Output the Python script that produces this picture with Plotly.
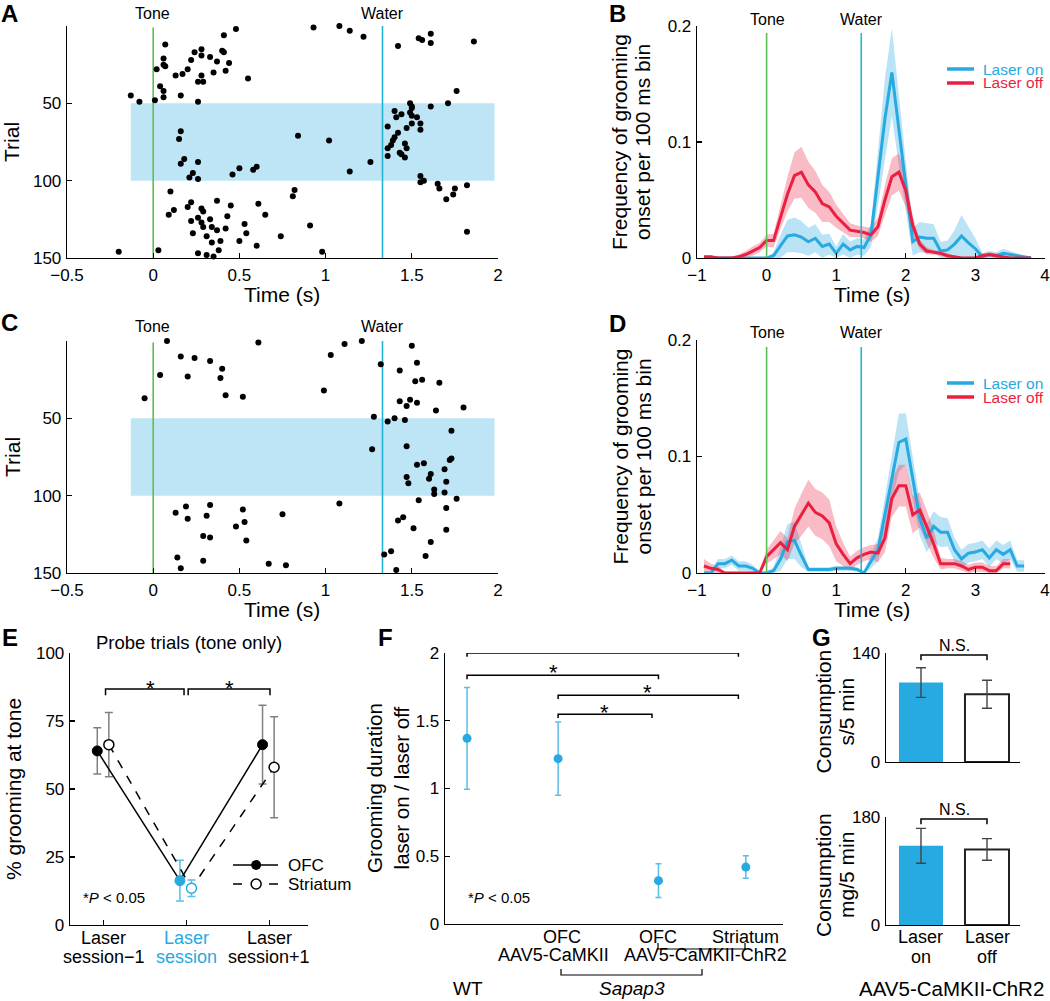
import numpy as np
import plotly.graph_objects as go

# ======================= DATA =======================
# Panel A raster: grooming onset (time, trial)
A_time = [0.48, 0.93, 1.08, 1.14, 1.22, 0.41, 0.07, 1.42, 1.54, 1.56, 1.61, 1.61, 1.86,
          0.28, 0.24, 0.28, 0.40, 0.41, 0.06, 0.22, 0.33, 0.37, 0.44, 0.06, 0.07, 0.02, 0.20,
          0.17, 0.13, 0.28, 0.35, 0.42, 0.55, 0.26, 0.29, 0.04, 0.06, 0.06, 0.16, -0.13, -0.08,
          0.01, 0.26, 1.76, 1.71, 1.61,
          0.16, 0.15, 0.84, 1.02, 0.18, 0.16, 0.26, 0.23, 0.21, 0.26, 0.46, 0.50, 0.58, 0.60,
          1.14, 1.26,
          1.40, 1.41, 1.44, 1.49, 1.50, 1.50, 1.49, 1.50, 1.53, 1.50, 1.55, 1.55, 1.36, 1.47,
          1.42, 1.40, 1.39, 1.38, 1.36, 1.46, 1.47, 1.43, 1.44, 1.46, 1.36, 1.55, 1.55, 1.57,
          1.65, 1.66, 1.75, 1.74, 1.70, 1.82, 1.82,
          0.10, 0.82, 0.81, 0.22, 0.20, 0.37, 0.28, 0.29, 0.45, 0.61, 0.09, 0.12, 0.43, 0.65,
          0.22, 0.26, 0.28, 0.33, 0.53, 0.91, 0.29, 0.34, 0.37, 0.42, 0.54, 0.23, 0.31, 0.74,
          0.39, 0.34, 0.50, 0.60, 0.38, 0.03, -0.20, 0.98, 0.26, 0.31, 0.35]
A_trial = [2, 1, 0, 3, 7, 6, 12, 13, 8, 9, 5, 11, 10,
           15, 17, 19, 16, 17, 21, 22, 20, 23, 24, 25, 26, 28, 28,
           31, 32, 32, 30, 29, 34, 36, 36, 39, 42, 46, 45, 45, 49,
           48, 49, 42, 50, 52,
           68, 73, 71, 74, 86, 89, 88, 95, 98, 99, 96, 92, 93, 91,
           94, 88,
           55, 59, 57, 50, 52, 53, 56, 58, 59, 63, 63, 67, 65, 66,
           69, 72, 74, 77, 79, 76, 79, 82, 83, 85, 84, 97, 101, 100,
           102, 105, 105, 109, 112, 103, 133,
           107, 106, 110, 114, 117, 113, 118, 120, 116, 115, 122, 119, 123, 122,
           126, 124, 127, 125, 128, 129, 130, 130, 132, 131, 134, 134, 136, 136,
           139, 140, 139, 142, 145, 145, 146, 146, 147, 148, 149]

# Panel C raster
C_time = [0.08, 0.61, 1.11, 1.21, 1.45, 1.73, 1.50, 1.03, 0.16, 0.24, 0.33, 1.32, 1.53,
          0.40, 1.43, 0.04, 0.20, 0.39, 1.52, 1.56, 1.66, 0.99, -0.05, 0.42, 0.52, 1.43,
          1.49, 1.53, 1.47, 1.64, 1.80, 1.28, 1.36, 1.40, 1.46, 1.73, 1.27, 1.47, 1.53,
          1.57, 1.73, 1.72, 1.69, 1.61, 1.60, 1.47, 1.48, 1.70, 1.63, 1.63, 1.69, 1.54,
          1.76, 1.08, 1.70, 0.19, 0.33, 0.13, 0.31, 0.20, 0.52, 0.53, 0.75, 0.48, 1.42,
          1.45, 1.51, 1.70, 0.29, 0.33, 0.54, 1.61, 1.34, 1.38, 1.58, 0.14, 0.29, 0.16,
          0.67, 0.77, 1.41]
C_trial = [0, 1, 2, 0, -1, -1, 3, 9, 10, 11, 13, 15, 14,
           18, 19, 22, 23, 24, 26, 25, 27, 32, 37, 35, 36, 39,
           38, 40, 42, 45, 43, 49, 52, 50, 51, 58, 70, 68, 80,
           79, 76, 77, 83, 86, 89, 88, 92, 91, 96, 99, 98, 103,
           102, 105, 108, 107, 106, 111, 113, 115, 109, 117, 112, 120, 116,
           114, 121, 122, 126, 127, 129, 130, 138, 136, 139, 140, 142, 147,
           144, 145, 148]

# Panels B and D: onset frequency per 100 ms bin (bin centres, s)
T_BINS = [-0.9, -0.8, -0.7, -0.6, -0.5, -0.4, -0.3, -0.2, -0.1, 0.0, 0.1, 0.2, 0.3, 0.4,
          0.5, 0.6, 0.7, 0.8, 0.9, 1.0, 1.1, 1.2, 1.3, 1.4, 1.5, 1.6, 1.7, 1.8, 1.9, 2.0,
          2.1, 2.2, 2.3, 2.4, 2.5, 2.6, 2.7, 2.8, 2.9, 3.0, 3.1, 3.2, 3.3, 3.4, 3.5, 3.6,
          3.7, 3.8]
B_on = [0, 0, 0, 0, 0, 0, 0, 0, 0, 0, 0.002, 0.010, 0.019, 0.020, 0.018, 0.014, 0.017,
        0.010, 0.012, 0.004, 0.012, 0.007, 0.010, 0.009, 0.020, 0.070, 0.120, 0.160, 0.110,
        0.060, 0.014, 0.018, 0.017, 0.017, 0.006, 0.007, 0.012, 0.019, 0.013, 0.008, 0.001,
        0.003, 0.002, 0.004, 0.003, 0.002, 0.001, 0]
B_on_err = [0, 0, 0, 0, 0, 0, 0, 0, 0, 0, 0.003, 0.010, 0.014, 0.015, 0.014, 0.012, 0.012,
            0.010, 0.009, 0.006, 0.009, 0.007, 0.007, 0.007, 0.010, 0.025, 0.035, 0.038,
            0.030, 0.020, 0.012, 0.013, 0.013, 0.012, 0.008, 0.008, 0.012, 0.018, 0.014,
            0.009, 0.003, 0.003, 0.003, 0.004, 0.003, 0.002, 0.001, 0]
B_off = [0.001, 0.001, 0, 0, 0, 0.001, 0.003, 0.006, 0.009, 0.015, 0.015, 0.035, 0.055,
         0.071, 0.074, 0.063, 0.057, 0.047, 0.044, 0.036, 0.030, 0.024, 0.023, 0.022, 0.020,
         0.027, 0.050, 0.070, 0.074, 0.058, 0.028, 0.012, 0.006, 0.005, 0.004, 0.002, 0.001,
         0, 0, 0, 0.002, 0.003, 0.002, 0.001, 0, 0, 0, 0]
B_off_err = [0.001, 0.001, 0.001, 0.001, 0.001, 0.002, 0.003, 0.004, 0.004, 0.005, 0.006,
             0.010, 0.015, 0.020, 0.022, 0.020, 0.018, 0.016, 0.013, 0.010, 0.008, 0.006,
             0.005, 0.005, 0.006, 0.008, 0.013, 0.016, 0.016, 0.014, 0.008, 0.004, 0.003,
             0.002, 0.002, 0.002, 0.001, 0.001, 0.001, 0.001, 0.002, 0.002, 0.002, 0.001,
             0.001, 0.001, 0.001, 0.001]
D_on = [0, 0, 0.008, 0.008, 0.011, 0.006, 0.006, 0.004, 0, 0, 0.002, 0.012, 0.027, 0.028,
        0.015, 0.003, 0.003, 0.003, 0.003, 0.004, 0.004, 0.004, 0.003, 0, 0.010, 0.020,
        0.050, 0.080, 0.112, 0.115, 0.080, 0.047, 0.030, 0.040, 0.035, 0.035, 0.020, 0.012,
        0.017, 0.018, 0.020, 0.013, 0.020, 0.016, 0.020, 0.006, 0.006]
D_on_err = [0.001, 0.001, 0.004, 0.004, 0.004, 0.004, 0.004, 0.003, 0.001, 0.001, 0.003,
            0.010, 0.015, 0.016, 0.010, 0.002, 0.002, 0.002, 0.002, 0.002, 0.002, 0.002,
            0.002, 0.002, 0.006, 0.010, 0.015, 0.020, 0.025, 0.022, 0.018, 0.015, 0.012,
            0.013, 0.013, 0.012, 0.010, 0.008, 0.008, 0.008, 0.008, 0.008, 0.008, 0.008,
            0.008, 0.005, 0.005]
D_off = [0.006, 0.004, 0.003, 0, 0, 0, 0, 0, 0, 0.014, 0.020, 0.026, 0.020, 0.040, 0.050,
         0.060, 0.052, 0.049, 0.043, 0.025, 0.016, 0.008, 0.013, 0.016, 0.018, 0.017, 0.030,
         0.064, 0.075, 0.075, 0.050, 0.054, 0.040, 0.025, 0.008, 0.008, 0.008, 0.006, 0.003,
         0.005, 0.005, 0.002, 0.002, 0.008, 0.008]
D_off_err = [0.006, 0.004, 0.003, 0.001, 0.001, 0.001, 0.001, 0.001, 0.001, 0.006, 0.008,
             0.010, 0.010, 0.015, 0.018, 0.020, 0.020, 0.020, 0.020, 0.015, 0.010, 0.006,
             0.006, 0.006, 0.006, 0.008, 0.012, 0.016, 0.018, 0.018, 0.016, 0.015, 0.014,
             0.012, 0.005, 0.004, 0.004, 0.004, 0.004, 0.004, 0.004, 0.004, 0.004, 0.004,
             0.004]

# Panel E: % grooming at tone (probe trials)
E_sessions = ["Laser|session\u22121", "Laser|session", "Laser|session+1"]
E_ofc = [64.0, 16.3, 66.3]
E_ofc_err = [8.5, 7.5, 14.5]
E_str = [66.3, 13.5, 58.0]
E_str_err = [11.8, 3.0, 18.6]

# Panel F: grooming duration ratio laser on / laser off
F_groups = ["WT", "Sapap3 OFC AAV5-CaMKII", "Sapap3 OFC ChR2", "Sapap3 Striatum ChR2"]
F_vals = [1.37, 1.22, 0.32, 0.42]
F_err = [0.375, 0.27, 0.125, 0.083]

# Panel G: consumption
G_cats = ["Laser|on", "Laser|off"]
G_time = [102, 87]
G_time_err = [19, 18]
G_mass = [132, 126]
G_mass_err = [29, 18]

# ======================= STYLE / LAYOUT =======================
W, H = 1050, 1001
FONT = "Arial, Liberation Sans, Helvetica, sans-serif"
BLUE = "#27A9E1"
RED = "#EB1F40"
GREEN = "#5DBE54"
CYAN = "#22B4D6"
SHADE = "#BEE5F6"


def px(x):
    return x / W


def py(y):
    return 1 - y / H


def dom_x(a, b):
    return [a / W, b / W]


def dom_y(top, bottom):
    return [1 - bottom / H, 1 - top / H]


def axis(**kw):
    base = dict(showline=True, linecolor="black", linewidth=1.3, ticks="inside",
                ticklen=5, tickwidth=1.2, tickcolor="black", showgrid=False,
                zeroline=False, tickfont=dict(size=17, color="black", family=FONT),
                fixedrange=True, ticklabelstandoff=1)
    base.update(kw)
    return base


fig = go.Figure()
annotations = []
shapes = []


def ann(text, x, y, size=17, xanchor="center", yanchor="middle", angle=0,
        color="black", xref="paper", yref="paper", yshift=0):
    if xref == "paper":
        x = px(x)
    if yref == "paper":
        y = py(y)
    annotations.append(dict(text=text, x=x, y=y, xref=xref, yref=yref, showarrow=False,
                            xanchor=xanchor, yanchor=yanchor, textangle=angle,
                            font=dict(size=size, color=color, family=FONT),
                            yshift=yshift, borderpad=0))


def bracket(xr, yr, x0, x1, y, ytick):
    shapes.append(dict(type="path", xref=xr, yref=yr,
                       path=f"M {x0},{ytick} L {x0},{y} L {x1},{y} L {x1},{ytick}",
                       line=dict(color="black", width=1.5)))


layout = dict(width=W, height=H, margin=dict(l=0, r=0, t=0, b=0, autoexpand=False),
              plot_bgcolor="white", paper_bgcolor="white", showlegend=False,
              font=dict(family=FONT, color="black"))

# ---------- Panels A and C (rasters) ----------
for ax_id, top, bottom, tt, tr, lab_y in [("", 26, 258, A_time, A_trial, 14),
                                          ("3", 341, 573, C_time, C_trial, 327)]:
    xa, ya = "x" + ax_id, "y" + ax_id
    layout["xaxis" + ax_id] = axis(domain=dom_x(67, 498), anchor=ya, range=[-0.5, 2],
                                   tickvals=[-0.5, 0, 0.5, 1, 1.5, 2])
    layout["yaxis" + ax_id] = axis(domain=dom_y(top, bottom), anchor=xa, range=[150, 0],
                                   tickvals=[50, 100, 150])
    shapes.append(dict(type="rect", xref=xa, yref=ya, x0=-0.13, x1=1.98, y0=50, y1=100,
                       fillcolor=SHADE, line=dict(width=0), layer="below"))
    shapes.append(dict(type="line", xref=xa, yref=ya, x0=0, x1=0, y0=1, y1=150,
                       line=dict(color=GREEN, width=1.6), layer="below"))
    shapes.append(dict(type="line", xref=xa, yref=ya, x0=1.33, x1=1.33, y0=0, y1=150,
                       line=dict(color=CYAN, width=1.6), layer="below"))
    fig.add_trace(go.Scatter(x=tt, y=tr, mode="markers", xaxis=xa, yaxis=ya,
                             marker=dict(color="black", size=6), cliponaxis=False))
    ann("Tone", 152, lab_y, size=16)
    ann("Water", 382, lab_y, size=16)
    ann("Time (s)", 282, bottom + 36, size=21)
    ann("Trial", 12, (top + bottom) / 2, size=21, angle=-90)

# ---------- Panels B and D (onset frequency) ----------
for ax_id, top, bottom, on, on_e, off, off_e, lab_y in [
        ("2", 26, 258, B_on, B_on_err, B_off, B_off_err, 20),
        ("4", 340, 573, D_on, D_on_err, D_off, D_off_err, 333)]:
    xa, ya = "x" + ax_id, "y" + ax_id
    layout["xaxis" + ax_id] = axis(domain=dom_x(697, 1045), anchor=ya, range=[-1, 4],
                                   tickvals=[-1, 0, 1, 2, 3, 4])
    layout["yaxis" + ax_id] = axis(domain=dom_y(top, bottom), anchor=xa, range=[0, 0.2],
                                   tickvals=[0, 0.1, 0.2], ticktext=["0", "0.1", "0.2"])
    for m, e, col, fillc in [(on, on_e, BLUE, "rgba(39,169,225,0.32)"),
                             (off, off_e, RED, "rgba(235,31,64,0.30)")]:
        tx = T_BINS[:len(m)]
        m_arr, e_arr = np.array(m), np.array(e)
        fig.add_trace(go.Scatter(x=tx, y=m_arr + e_arr, mode="lines", line=dict(width=0),
                                 xaxis=xa, yaxis=ya, hoverinfo="skip"))
        fig.add_trace(go.Scatter(x=tx, y=np.maximum(m_arr - e_arr, 0), mode="lines",
                                 line=dict(width=0), fill="tonexty", fillcolor=fillc,
                                 xaxis=xa, yaxis=ya, hoverinfo="skip"))
    for m, col in [(on, BLUE), (off, RED)]:
        fig.add_trace(go.Scatter(x=T_BINS[:len(m)], y=m, mode="lines",
                                 line=dict(color=col, width=3), xaxis=xa, yaxis=ya))
    shapes.append(dict(type="line", xref=xa, yref=ya, x0=0, x1=0, y0=0, y1=0.194,
                       line=dict(color=GREEN, width=1.6)))
    shapes.append(dict(type="line", xref=xa, yref=ya, x0=1.36, x1=1.36, y0=0, y1=0.194,
                       line=dict(color=CYAN, width=1.6)))
    ann("Tone", 767, lab_y, size=16)
    ann("Water", 861, lab_y, size=16)
    ann("Time (s)", 872, bottom + 36, size=21)
    mid = (top + bottom) / 2
    ann("Frequency of grooming", 620, mid, size=21, angle=-90)
    ann("onset per 100 ms bin", 643, mid, size=21, angle=-90)
    # legend
    ly = top + 43
    shapes.append(dict(type="line", xref="paper", yref="paper", x0=px(947), x1=px(974),
                       y0=py(ly), y1=py(ly), line=dict(color=BLUE, width=3.5)))
    shapes.append(dict(type="line", xref="paper", yref="paper", x0=px(947), x1=px(974),
                       y0=py(ly + 14), y1=py(ly + 14), line=dict(color=RED, width=3.5)))
    ann("Laser on", 982, ly, size=15.5, xanchor="left", color=BLUE)
    ann("Laser off", 982, ly + 14, size=15.5, xanchor="left", color=RED)

# ---------- Panel E ----------
E_OFF_OFC, E_OFF_STR = -0.08, 0.06
ex = list(range(len(E_sessions)))
layout["xaxis5"] = axis(domain=dom_x(70, 308), anchor="y5", range=[-0.41, 2.47],
                        tickvals=ex, showticklabels=False)
layout["yaxis5"] = axis(domain=dom_y(653, 925), anchor="x5", range=[0, 100],
                        tickvals=[0, 25, 50, 75, 100])
x_ofc = [i + E_OFF_OFC for i in ex]
x_str = [i + E_OFF_STR for i in ex]
GRAY = "#808080"
EB = "#5BBDE8"
for xs, vals, errs in [(x_ofc, E_ofc, E_ofc_err), (x_str, E_str, E_str_err)]:
    for idxs, col in [([0, 2], GRAY), ([1], EB)]:
        fig.add_trace(go.Scatter(x=[xs[i] for i in idxs], y=[vals[i] for i in idxs],
                                 mode="markers", marker=dict(size=1, color="rgba(0,0,0,0)"),
                                 error_y=dict(type="data", array=[errs[i] for i in idxs],
                                              color=col, thickness=1.5, width=4),
                                 xaxis="x5", yaxis="y5"))
fig.add_trace(go.Scatter(x=x_ofc, y=E_ofc, mode="lines", line=dict(color="black", width=1.5),
                         xaxis="x5", yaxis="y5"))
fig.add_trace(go.Scatter(x=x_str, y=E_str, mode="lines",
                         line=dict(color="black", width=1.5, dash="dash"),
                         xaxis="x5", yaxis="y5"))
fig.add_trace(go.Scatter(x=x_ofc, y=E_ofc, mode="markers", xaxis="x5", yaxis="y5",
                         marker=dict(size=10, color=["black", BLUE, "black"],
                                     line=dict(color=["black", BLUE, "black"], width=1))))
fig.add_trace(go.Scatter(x=x_str, y=E_str, mode="markers", xaxis="x5", yaxis="y5",
                         marker=dict(size=10, color="white",
                                     line=dict(color=["black", BLUE, "black"], width=1.5))))
bracket("x5", "y5", 0.02, 0.97, 86.8, 84.5)
bracket("x5", "y5", 1.02, 2.01, 86.8, 84.5)
ann("*", 0.56, 89.3, size=22, xref="x5", yref="y5", yshift=-6)
ann("*", 1.52, 89.3, size=22, xref="x5", yref="y5", yshift=-6)
ann("Probe trials (tone only)", 189, 642, size=18.5)
ann("*<i>P</i> < 0.05", 82, 897, size=15, xanchor="left")
ann("% grooming at tone", 13, 789, size=21, angle=-90)
for i, lab in enumerate(E_sessions):
    col = BLUE if i == 1 else "black"
    l1, l2 = lab.split("|")
    ann(l1, i, py(938), size=18, xref="x5", color=col, yref="paper_raw")
    ann(l2, i, py(957), size=18, xref="x5", color=col, yref="paper_raw")
# legend for E (line + marker samples)
shapes.append(dict(type="line", xref="paper", yref="paper", x0=px(233), x1=px(278),
                   y0=py(865), y1=py(865), line=dict(color="black", width=1.5), layer="below"))
shapes.append(dict(type="line", xref="paper", yref="paper", x0=px(233), x1=px(278),
                   y0=py(884), y1=py(884), line=dict(color="black", width=1.5, dash="dash"),
                   layer="below"))
fig.add_trace(go.Scatter(x=[(256 - 104) / 82.5], y=[(925 - 865) / 2.72], mode="markers",
                         marker=dict(size=10, color="black"), xaxis="x5", yaxis="y5",
                         cliponaxis=False))
fig.add_trace(go.Scatter(x=[(256 - 104) / 82.5], y=[(925 - 884) / 2.72], mode="markers",
                         marker=dict(size=10, color="white", line=dict(color="black", width=1.5)),
                         xaxis="x5", yaxis="y5", cliponaxis=False))
ann("OFC", 287, 865, size=17, xanchor="left")
ann("Striatum", 287, 884, size=17, xanchor="left")

# ---------- Panel F ----------
F_POS = [0, 0.98, 2.06, 3.0]
layout["xaxis6"] = axis(domain=dom_x(445, 783), anchor="y6", range=[-0.237, 3.4],
                        showticklabels=False, ticks="")
layout["yaxis6"] = axis(domain=dom_y(653, 924), anchor="x6", range=[0, 2],
                        tickvals=[0, 0.5, 1, 1.5, 2], ticktext=["0", "0.5", "1", "1.5", "2"])
fig.add_trace(go.Scatter(x=F_POS, y=F_vals, mode="markers", xaxis="x6", yaxis="y6",
                         marker=dict(size=9, color=BLUE),
                         error_y=dict(type="data", array=F_err, color=EB, thickness=1.5,
                                      width=3)))
bracket("x6", "y6", 0, 2.92, 2.0, 1.972)
bracket("x6", "y6", 0, 2.06, 1.835, 1.807)
bracket("x6", "y6", 0.98, 2.92, 1.688, 1.66)
bracket("x6", "y6", 0.98, 1.99, 1.548, 1.52)
for sx, sy in [(1.53, 2.07), (0.93, 1.90), (1.94, 1.755), (1.48, 1.607)]:
    ann("*", sx, sy, size=22, xref="x6", yref="y6", yshift=-6)
ann("*<i>P</i> < 0.05", 467, 897, size=15, xanchor="left")
ann("Grooming duration<br>laser on / laser off", 388, 788, size=20.5, angle=-90)
ann("OFC", 562, 937, size=18)
ann("OFC", 658, 937, size=18)
ann("Striatum", 745, 937, size=18)
ann("AAV5-CaMKII", 553, 955, size=18)
ann("AAV5-CaMKII-ChR2", 705, 955, size=18)
ann("WT", 468, 988, size=19)
ann("<i>Sapap3</i>", 632, 988, size=19)
for x0, x1, yb, yt in [(658, 745, 949, 943), (561, 702, 975, 969)]:
    shapes.append(dict(type="path", xref="paper", yref="paper",
                       path=f"M {px(x0)},{py(yt)} L {px(x0)},{py(yb)} L {px(x1)},{py(yb)} L {px(x1)},{py(yt)}",
                       line=dict(color="black", width=1.2)))

# ---------- Panel G ----------
gx = list(range(len(G_cats)))
for ax_id, top, bottom, vals, errs, ymax in [("7", 653, 762, G_time, G_time_err, 140),
                                             ("8", 817, 925, G_mass, G_mass_err, 180)]:
    xa, ya = "x" + ax_id, "y" + ax_id
    layout["xaxis" + ax_id] = axis(domain=dom_x(886, 1020), anchor=ya, range=[-0.53, 1.5],
                                   showticklabels=False, ticks="")
    layout["yaxis" + ax_id] = axis(domain=dom_y(top, bottom), anchor=xa, range=[0, ymax],
                                   tickvals=[0, ymax])
    fig.add_trace(go.Bar(x=gx, y=vals, width=0.667, xaxis=xa, yaxis=ya,
                         marker=dict(color=[BLUE, "white"],
                                     line=dict(color=[BLUE, "#222222"], width=[0, 2])),
                         error_y=dict(type="data", array=errs, color="#444444",
                                      thickness=1.4, width=5)))
    ytick = ymax * (1 - 5 / (bottom - top))
    bracket(xa, ya, 0.0, 1.0, ymax * (1 - 2 / (bottom - top)), ytick - ymax * 0.02)
    ann("N.S.", 954, top - 8, size=16)
    ann("Consumption", 823, (top + bottom) / 2 + 4, size=21, angle=-90)
    ann("s/5 min" if ax_id == "7" else "mg/5 min", 846, (top + bottom) / 2 + 4, size=21,
        angle=-90)
for i, lab in enumerate(G_cats):
    l1, l2 = lab.split("|")
    ann(l1, i, py(937), size=18, xref="x8", yref="paper_raw")
    ann(l2, i, py(957), size=18, xref="x8", yref="paper_raw")
ann("AAV5-CaMKII-ChR2", 951, 988, size=20.5)

# ---------- panel letters ----------
for letter, x, y in [("A", 9, 14), ("B", 617, 14), ("C", 9, 322), ("D", 617, 323),
                     ("E", 10, 637), ("F", 385, 637), ("G", 821, 637)]:
    ann(f"<b>{letter}</b>", x, y, size=24)

# fix "paper_raw" refs (already in paper units)
for a in annotations:
    if a["yref"] == "paper_raw":
        a["yref"] = "paper"

layout["annotations"] = annotations
layout["shapes"] = shapes
fig.update_layout(**layout)
fig.write_html("out.html", config={"displayModeBar": False, "staticPlot": True},
               post_script="document.body.style.margin='0';document.body.style.padding='0';")
